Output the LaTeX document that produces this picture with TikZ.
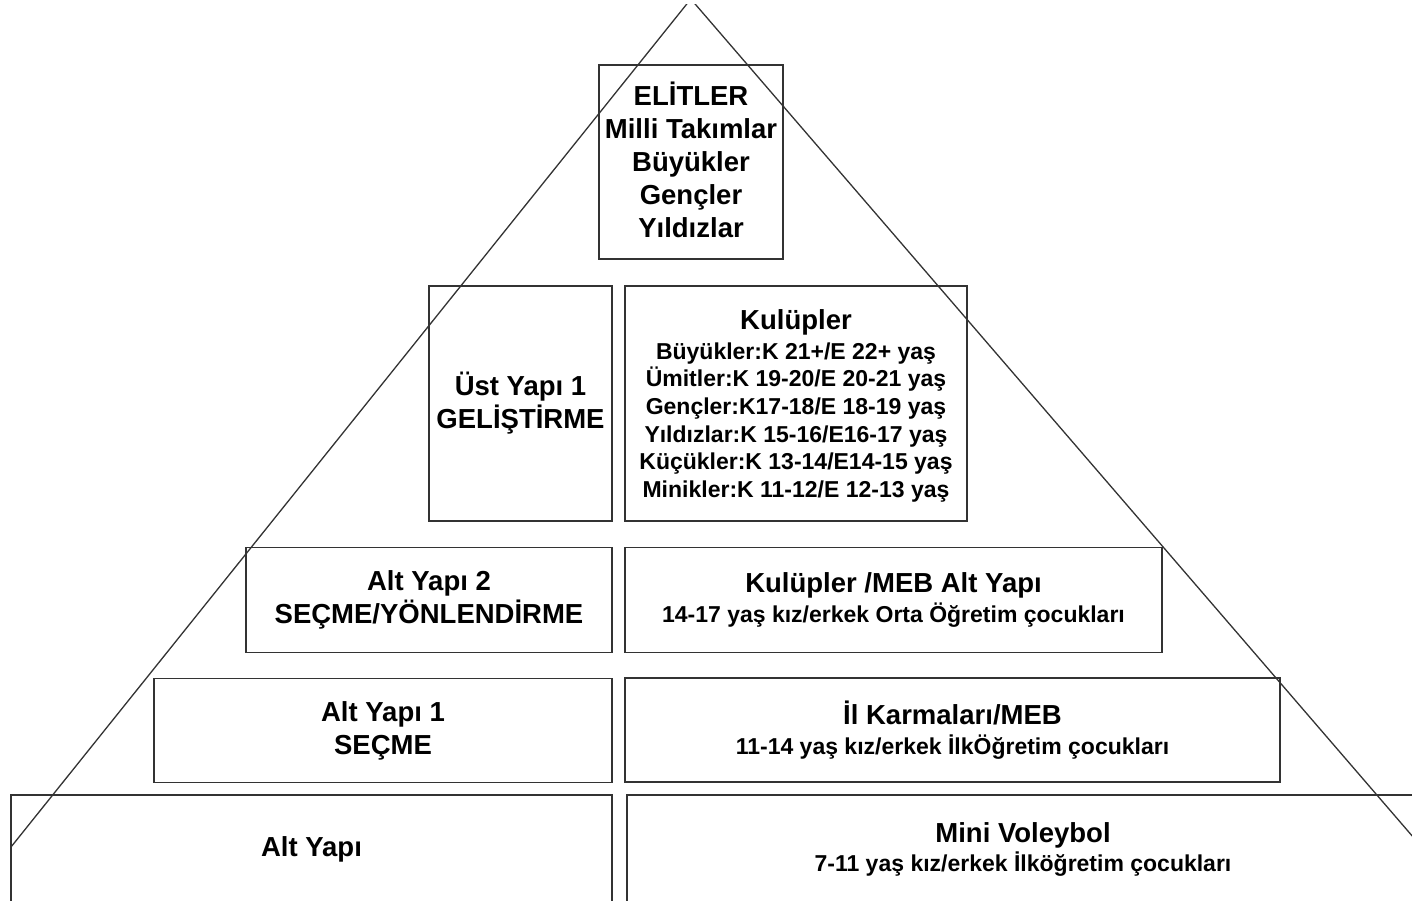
\documentclass[tikz,border=0pt]{standalone}
\usepackage{fontspec}
\setmainfont{Liberation Sans}
\definecolor{edge}{HTML}{333333}
\newcommand{\bigtxt}{\fontsize{27.5}{33}\selectfont}
\newcommand{\smalltxt}{\fontsize{23}{27.6}\selectfont}
\newcommand{\headtxt}{\fontsize{27.5}{27.6}\selectfont}
\tikzset{
  tier/.style={draw=edge, line width=1.3pt, inner sep=0pt, outer sep=0pt,
    align=center, text=black, font=\bfseries\bigtxt},
  tierlist/.style={tier, font=\bfseries\smalltxt},
  slope/.style={draw=edge, line width=1.3pt}
}
\begin{document}
\begin{tikzpicture}[x=1pt, y=-1pt]
\useasboundingbox (0,0) rectangle (1412,900);
\clip (0,0) rectangle (1412,900);

% pyramid outline: left side stops at the base box, right side runs off
\coordinate (apex) at (690.8,-1);
\coordinate (baseL) at (11,847);
\coordinate (baseR) at (1476,910);
\begin{scope}
  \clip (-50,4.5) rectangle (1500,920);
  \draw[slope] (baseL) -- (apex) -- (baseR);
\end{scope}

% top tier
\node[tier, text depth=4pt, minimum width=184pt, minimum height=194pt] (elit) at (691,162)
  {ELİTLER\\ Milli Takımlar\\ Büyükler\\ Gençler\\ Yıldızlar};

% development tier
\node[tier, minimum width=183pt, minimum height=235pt] (ust) at (520.5,403.5)
  {Üst Yapı 1\\ GELİŞTİRME};
\node[tierlist, text depth=0pt, minimum width=342pt, minimum height=235pt] (kulup) at (796,403.5)
  {{\headtxt Kulüpler}\\[2pt]
   Büyükler:K 21+/E 22+ yaş\\
   Ümitler:K 19-20/E 20-21 yaş\\
   Gençler:K17-18/E 18-19 yaş\\
   Yıldızlar:K 15-16/E16-17 yaş\\
   Küçükler:K 13-14/E14-15 yaş\\
   Minikler:K 11-12/E 12-13 yaş};

% selection / orientation tier
\node[tier, minimum width=366pt, minimum height=105pt] (alt2) at (429,600)
  {Alt Yapı 2\\ SEÇME/YÖNLENDİRME};
\node[tierlist, minimum width=537pt, minimum height=105pt] (meb) at (893.5,600)
  {{\headtxt Kulüpler /MEB Alt Yapı}\\[2pt]
   14-17 yaş kız/erkek Orta Öğretim çocukları};

% selection tier
\node[tier, minimum width=458pt, minimum height=104pt] (alt1) at (383,730.5)
  {Alt Yapı 1\\ SEÇME};
\node[tierlist, minimum width=655pt, minimum height=104pt] (il) at (952.5,730)
  {{\headtxt İl Karmaları/MEB}\\[1.8pt]
   11-14 yaş kız/erkek İlkÖğretim çocukları};

% base tier
\node[tier, minimum width=601pt, minimum height=109pt] (alt) at (311.5,849.5)
  {Alt Yapı};
\node[tierlist, minimum width=792pt, minimum height=109pt] (mini) at (1023,849.5)
  {{\headtxt Mini Voleybol}\\[2pt]
   7-11 yaş kız/erkek İlköğretim çocukları};
\end{tikzpicture}
\end{document}
